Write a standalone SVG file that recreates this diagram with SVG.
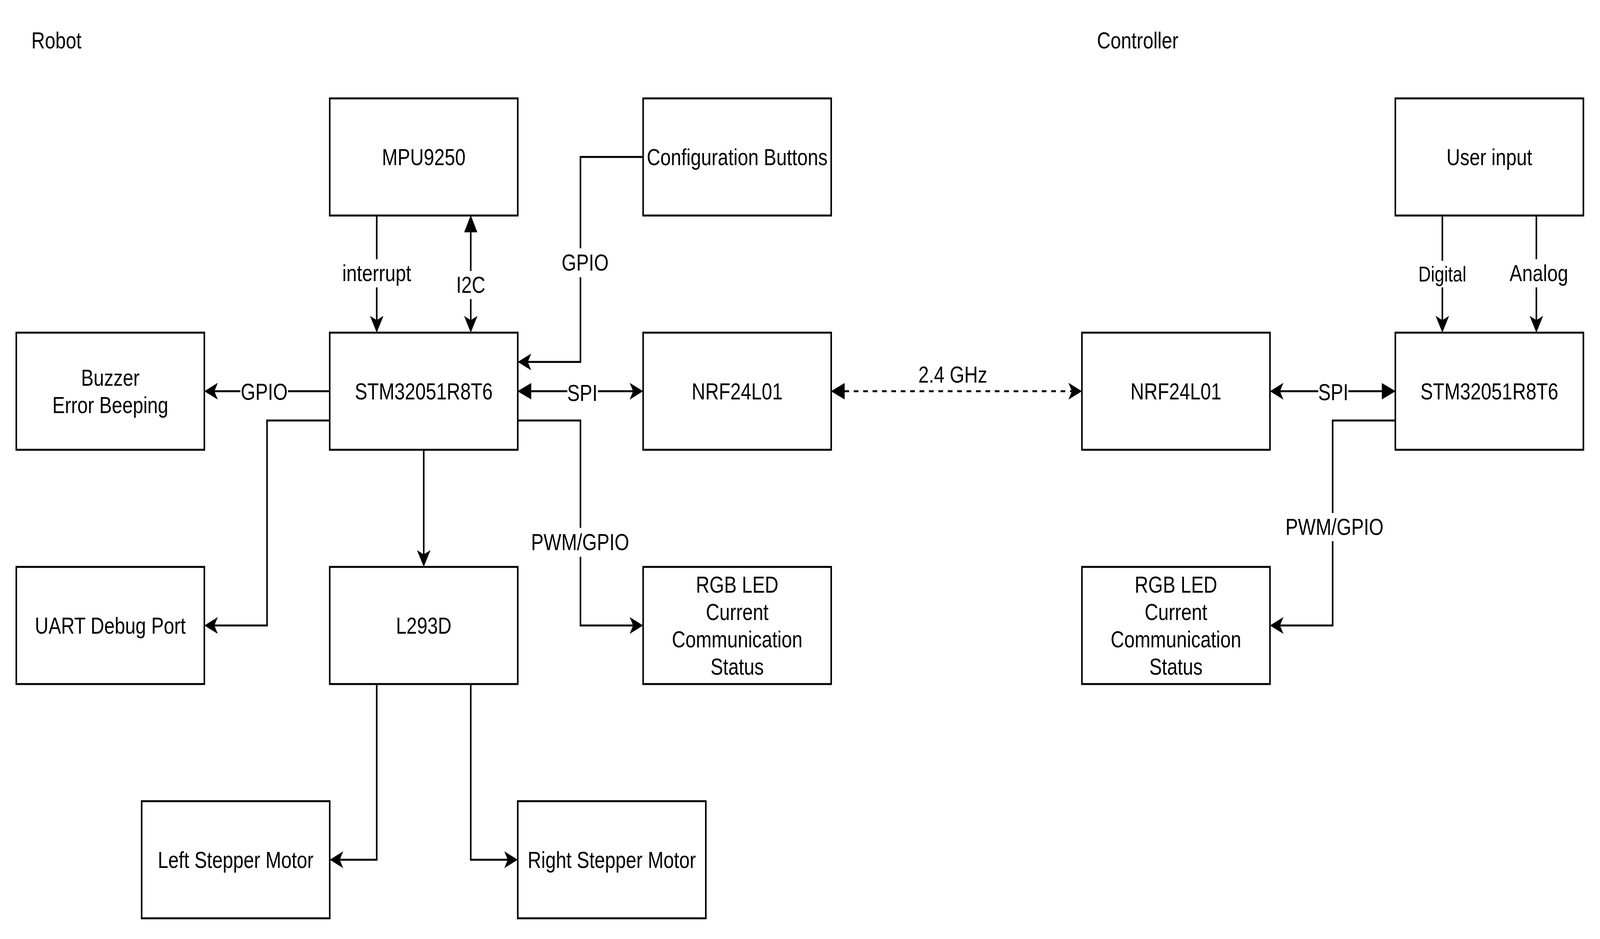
<svg xmlns="http://www.w3.org/2000/svg" width="5105" height="2405" viewBox="0 0 5105 2405" preserveAspectRatio="none">
<style>
svg{width:100vw;height:100vh}
.box{fill:#fff;stroke:#000;stroke-width:5}
.t{font-family:"Liberation Sans",Arial,Helvetica,sans-serif;font-size:60px;fill:#000;text-anchor:middle}
.title{font-family:"Liberation Sans",Arial,Helvetica,sans-serif;font-size:60px;fill:#000;text-anchor:start}
.e{fill:none;stroke:#000;stroke-width:5}
.dash{stroke-dasharray:15 15}
.lb{fill:#fff;stroke:none}
</style>
<defs>
<marker id="classic" markerUnits="userSpaceOnUse" orient="auto" markerWidth="70" markerHeight="60" viewBox="-20 -30 70 60" refX="0" refY="0" overflow="visible">
<path d="M32,0 L-11,-21.5 L0,0 L-11,21.5 Z" fill="#000"/>
</marker>
<marker id="block" markerUnits="userSpaceOnUse" orient="auto-start-reverse" markerWidth="70" markerHeight="60" viewBox="-10 -30 70 60" refX="0" refY="0" overflow="visible">
<path d="M43,0 L-1,-21 L-1,21 Z" fill="#000"/>
</marker>
</defs>
<rect x="0" y="0" width="5105" height="2405" fill="#fff"/>
<text class="title" x="100" y="124">Robot</text>
<text class="title" x="3500" y="124">Controller</text>

<g id="connectors">
<path class="e" d="M1202,552 V820" marker-end="url(#classic)"/>
<path class="e" d="M1502,594 V820" marker-start="url(#block)" marker-end="url(#classic)"/>
<path class="e" d="M2052,402 H1852 V927 H1684" marker-end="url(#classic)"/>
<path class="e" d="M1052,1002 H684" marker-end="url(#classic)"/>
<path class="e" d="M1052,1077 H852 V1602 H684" marker-end="url(#classic)"/>
<path class="e" d="M1352,1152 V1420" marker-end="url(#classic)"/>
<path class="e" d="M1694,1002 H2020" marker-start="url(#block)" marker-end="url(#classic)"/>
<path class="e" d="M1652,1077 H1852 V1602 H2020" marker-end="url(#classic)"/>
<path class="e" d="M1202,1752 V2202 H1084" marker-end="url(#classic)"/>
<path class="e" d="M1502,1752 V2202 H1620" marker-end="url(#classic)"/>
<path class="e dash" d="M2694,1002 H3420" marker-start="url(#block)" marker-end="url(#classic)"/>
<path class="e" d="M4410,1002 H4084" marker-start="url(#block)" marker-end="url(#classic)"/>
<path class="e" d="M4602,552 V820" marker-end="url(#classic)"/>
<path class="e" d="M4902,552 V820" marker-end="url(#classic)"/>
<path class="e" d="M4452,1077 H4252 V1602 H4084" marker-end="url(#classic)"/>

<rect class="lb" x="1090" y="664" width="224" height="72"/>
<text class="t" x="1202" y="720">interrupt</text>
<rect class="lb" x="1454" y="694" width="96" height="72"/>
<text class="t" x="1502" y="750">I2C</text>
<rect class="lb" x="1790" y="636" width="154" height="74"/>
<text class="t" x="1867" y="693">GPIO</text>
<rect class="lb" x="767" y="966" width="152" height="72"/>
<text class="t" x="843" y="1024">GPIO</text>
<rect class="lb" x="1810" y="966" width="98" height="72"/>
<text class="t" x="1858" y="1027">SPI</text>
<rect class="lb" x="1694" y="1352" width="316" height="74"/>
<text class="t" x="1851" y="1409">PWM/GPIO</text>
<text class="t" x="3040" y="980">2.4 GHz</text>
<rect class="lb" x="4206" y="966" width="96" height="72"/>
<text class="t" x="4254" y="1025">SPI</text>
<rect class="lb" x="4525" y="668" width="154" height="68"/>
<text class="t" x="4602" y="721" style="font-size:55px">Digital</text>
<rect class="lb" x="4816" y="664" width="190" height="72"/>
<text class="t" x="4910" y="720">Analog</text>
<rect class="lb" x="4100" y="1314" width="316" height="72"/>
<text class="t" x="4258" y="1370">PWM/GPIO</text>
</g>

<g id="mpu9250"><rect class="box" x="1052" y="252" width="600" height="300"/><text class="t" x="1352" y="423">MPU9250</text></g>
<g id="config-buttons"><rect class="box" x="2052" y="252" width="600" height="300"/><text class="t" x="2352" y="423">Configuration Buttons</text></g>
<g id="user-input"><rect class="box" x="4452" y="252" width="600" height="300"/><text class="t" x="4752" y="423">User input</text></g>
<g id="buzzer"><rect class="box" x="52" y="852" width="600" height="300"/><text class="t" x="352" y="988">Buzzer</text><text class="t" x="352" y="1058">Error Beeping</text></g>
<g id="stm32-robot"><rect class="box" x="1052" y="852" width="600" height="300"/><text class="t" x="1352" y="1023">STM32051R8T6</text></g>
<g id="nrf-robot"><rect class="box" x="2052" y="852" width="600" height="300"/><text class="t" x="2352" y="1023">NRF24L01</text></g>
<g id="nrf-controller"><rect class="box" x="3452" y="852" width="600" height="300"/><text class="t" x="3752" y="1023">NRF24L01</text></g>
<g id="stm32-controller"><rect class="box" x="4452" y="852" width="600" height="300"/><text class="t" x="4752" y="1023">STM32051R8T6</text></g>
<g id="uart"><rect class="box" x="52" y="1452" width="600" height="300"/><text class="t" x="352" y="1623">UART Debug Port</text></g>
<g id="l293d"><rect class="box" x="1052" y="1452" width="600" height="300"/><text class="t" x="1352" y="1623">L293D</text></g>
<g id="rgb-robot"><rect class="box" x="2052" y="1452" width="600" height="300"/><text class="t" x="2352" y="1518">RGB LED</text><text class="t" x="2352" y="1588">Current</text><text class="t" x="2352" y="1658">Communication</text><text class="t" x="2352" y="1728">Status</text></g>
<g id="rgb-controller"><rect class="box" x="3452" y="1452" width="600" height="300"/><text class="t" x="3752" y="1518">RGB LED</text><text class="t" x="3752" y="1588">Current</text><text class="t" x="3752" y="1658">Communication</text><text class="t" x="3752" y="1728">Status</text></g>
<g id="left-stepper"><rect class="box" x="452" y="2052" width="600" height="300"/><text class="t" x="752" y="2223">Left Stepper Motor</text></g>
<g id="right-stepper"><rect class="box" x="1652" y="2052" width="600" height="300"/><text class="t" x="1952" y="2223">Right Stepper Motor</text></g>
</svg>
